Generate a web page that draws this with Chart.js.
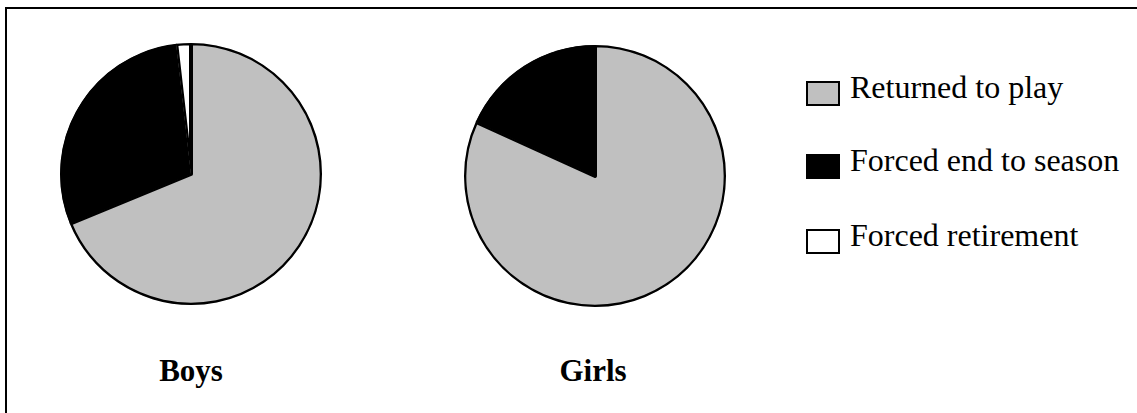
<!DOCTYPE html>
<html>
<head>
<meta charset="utf-8">
<script src="https://cdn.jsdelivr.net/npm/chart.js@4"></script>
<style>
    html, body { margin: 0; background: #fff; overflow: hidden; width: 1137px; height: 413px; }
    #frame {
        position: absolute; left: 5px; top: 7px; width: 1200px; height: 460px;
        border-left: 2px solid #000; border-top: 2px solid #000;
    }
    canvas { position: absolute; }
    #boysChart { left: 60px; top: 43px; }
    #girlsChart { left: 464px; top: 45px; }
    .pieLabel {
        position: absolute; top: 353px; width: 200px; text-align: center;
        font: bold 31px "Liberation Serif", "Times New Roman", serif;
    }
    #legend { position: absolute; left: 806px; top: 70px; font: 32px "Liberation Serif", "Times New Roman", serif; }
    .legendRow { position: absolute; left: 0; white-space: nowrap; height: 40px; }
    .legendBox {
        position: absolute; left: 0; width: 30px; height: 21px; border: 2px solid #000;
    }
    .legendText { position: absolute; left: 44px; top: 0; line-height: 34px; }
</style>
</head>
<body>
<div id="frame"></div>
<canvas id="boysChart" width="262" height="262"></canvas>
<canvas id="girlsChart" width="262" height="262"></canvas>
<div class="pieLabel" style="left:91px">Boys</div>
<div class="pieLabel" style="left:493px">Girls</div>
<div id="legend"></div>
<script>
document.addEventListener('DOMContentLoaded', function() {
    // outcome categories, same order in both pies
    var categories = ['Returned to play', 'Forced end to season', 'Forced retirement'];
    var colors = ['#c0c0c0', '#000000', '#ffffff'];
    // percent of injuries
    var boysValues = [68.8, 29.4, 1.8];
    var girlsValues = [81.8, 18.2, 0];

    function makePie(id, values) {
        var ctx = document.getElementById(id).getContext('2d');
        return new Chart(ctx, {
            type: 'pie',
            data: {
                labels: categories,
                datasets: [{
                    data: values,
                    backgroundColor: colors,
                    borderColor: '#000000',
                    borderWidth: 2,
                    borderAlign: 'inner'
                }]
            },
            options: {
                responsive: false,
                animation: false,
                layout: { padding: 0 },
                plugins: {
                    legend: { display: false },
                    tooltip: { enabled: false }
                }
            }
        });
    }

    makePie('boysChart', boysValues);
    makePie('girlsChart', girlsValues);

    // legend built from the same arrays
    var legend = document.getElementById('legend');
    var rowTops = [0, 73, 148];
    categories.forEach(function(cat, i) {
        var row = document.createElement('div');
        row.className = 'legendRow';
        row.style.top = rowTops[i] + 'px';
        var box = document.createElement('span');
        box.className = 'legendBox';
        box.style.background = colors[i];
        box.style.top = '11px';
        var txt = document.createElement('span');
        txt.className = 'legendText';
        txt.textContent = cat;
        row.appendChild(box);
        row.appendChild(txt);
        legend.appendChild(row);
    });
});
</script>
</body>
</html>
